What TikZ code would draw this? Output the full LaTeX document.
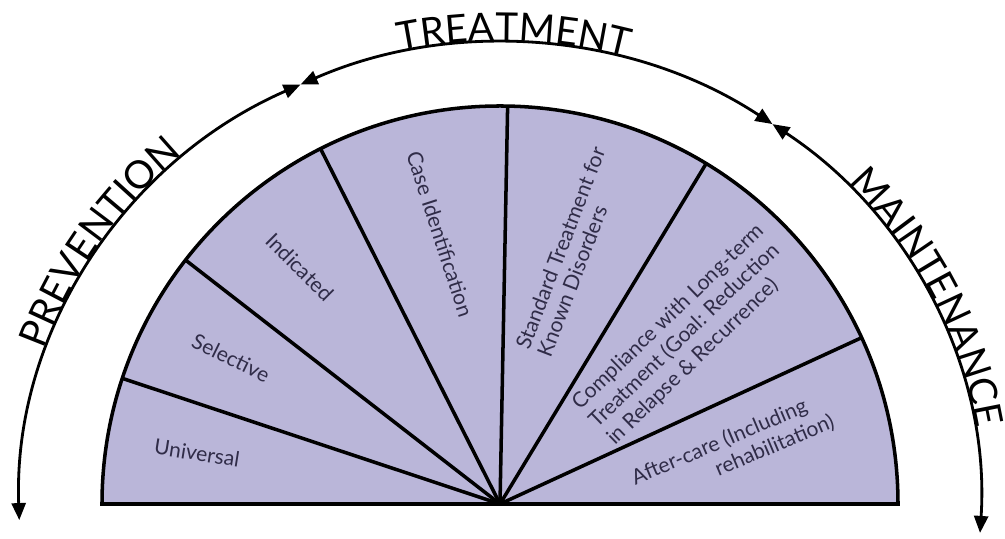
\documentclass[tikz,border=0pt]{standalone}
\usepackage{fontspec}
\setmainfont{Lato}
\usetikzlibrary{arrows.meta,decorations.text}
\definecolor{lavender}{RGB}{186,182,217}
\definecolor{labeltext}{RGB}{48,44,72}
\newcommand{\phasefont}{\fontsize{22}{22}\selectfont}
\begin{document}
\begin{tikzpicture}[
  sector/.style={text=labeltext, font=\fontsize{12}{14}\selectfont},
  phase/.style={line width=1.6pt, {Triangle[length=3.4mm,width=2.8mm]}-{Triangle[length=3.4mm,width=2.8mm]}},
  spoke/.style={line width=2pt},
  phasetext/.style={decorate, decoration={text along path, text align=center, raise=1.5pt, text={|\phasefont|#1}}}
]
\useasboundingbox (-10,-0.7) rectangle (10.1,10.08);

\coordinate (o) at (0,0);

\draw[fill=lavender, line width=2pt] (-7.96,0) arc[start angle=180, end angle=0, radius=7.96] -- cycle;

\draw[spoke] (o) -- (161.6:7.96);
\draw[spoke] (o) -- (142.2:7.96);
\draw[spoke] (o) -- (116.8:7.96);
\draw[spoke] (o) -- (88.9:7.96);
\draw[spoke] (o) -- (58.8:7.96);
\draw[spoke] (o) -- (24.7:7.96);

\node[sector, rotate=-9] (univ) at (-6.06,1.02) {Universal};
\node[sector, rotate=-26] (sel) at (-5.38,2.92) {Selective};
\node[sector, rotate=-45] (ind) at (-4.0,4.74) {Indicated};
\node[sector, rotate=-72] (case) at (-1.2,5.4) {Case Identification};
\node[sector, rotate=69, align=left, font=\fontsize{12}{13}\selectfont] (std) at (1.42,5.04) {Standard Treatment for\\Known Disorders};
\node[sector, rotate=44, align=left] (comp) at (3.72,3.38) {Compliance with Long-term\\Treatment (Goal: Reduction\\in Relapse \& Recurrence)};
\node[sector, rotate=23, align=left] (after) at (4.66,1.08) {After-care (Including\\\hspace*{1.6cm}rehabilitation)};

\draw[phase] (182:9.62 and 9.22) arc[start angle=182, end angle=114.5, x radius=9.62, y radius=9.22];
\draw[phase] (114.5:9.62 and 9.22) arc[start angle=114.5, end angle=55.5, x radius=9.62, y radius=9.22];
\draw[phase] (55.5:9.62 and 9.22) arc[start angle=55.5, end angle=-3.6, x radius=9.62, y radius=9.22];

\path[phasetext=PREVENTION] (176:9.62 and 9.22) arc[start angle=176, end angle=116, x radius=9.62, y radius=9.22];
\path[phasetext=TREATMENT] (118.3:9.62 and 9.22) arc[start angle=118.3, end angle=58.3, x radius=9.62, y radius=9.22];
\path[phasetext=MAINTENANCE] (56.5:9.62 and 9.22) arc[start angle=56.5, end angle=-3.5, x radius=9.62, y radius=9.22];
\end{tikzpicture}
\end{document}
